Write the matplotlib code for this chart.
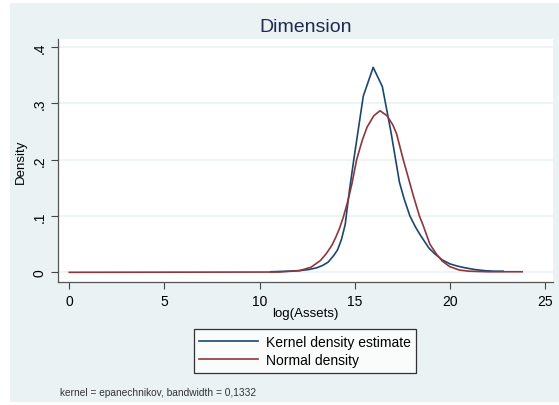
import matplotlib.pyplot as plt
import numpy as np

plt.rcParams['font.family'] = ['Liberation Sans', 'DejaVu Sans']

# kernel density estimate
kde_x = np.array([10.6, 11.5, 12.1, 12.6, 13.0, 13.3, 13.6, 13.9, 14.1, 14.3, 14.5,
                  14.7, 14.95, 15.45, 15.97, 16.45, 16.9, 17.35, 17.6, 17.9, 18.2,
                  18.45, 18.9, 19.2, 19.6, 20.0, 20.4, 20.8, 21.3, 21.8, 22.3, 22.8])
kde_y = np.array([0.001, 0.002, 0.003, 0.005, 0.008, 0.012, 0.018, 0.030, 0.040, 0.058, 0.085,
                  0.140, 0.200, 0.313, 0.364, 0.330, 0.250, 0.160, 0.130, 0.100, 0.080,
                  0.066, 0.043, 0.033, 0.022, 0.015, 0.011, 0.008, 0.005, 0.003, 0.002, 0.002])

# normal density
norm_x = np.array([0, 11.0, 12.1, 12.7, 13.2, 13.5, 13.8, 14.0, 14.2, 14.4, 14.65, 14.85,
                   15.1, 15.4, 15.65, 16.0, 16.33, 16.7, 17.0, 17.2, 17.55, 17.8, 18.08,
                   18.4, 18.6, 18.95, 19.3, 19.6, 20.0, 20.5, 21.0, 22.0, 23.8])
norm_y = np.array([0, 0.0005, 0.003, 0.009, 0.021, 0.033, 0.048, 0.062, 0.078, 0.098, 0.128, 0.157,
                   0.200, 0.235, 0.258, 0.278, 0.287, 0.278, 0.262, 0.246, 0.200, 0.170, 0.136,
                   0.100, 0.083, 0.050, 0.032, 0.020, 0.010, 0.004, 0.002, 0.001, 0.001])

xticks = [0, 5, 10, 15, 20, 25]
yticks = [0, 0.1, 0.2, 0.3, 0.4]
ylabels = ['0', '.1', '.2', '.3', '.4']

bg = '#eaf2f3'
W, H = 559, 406
fig = plt.figure(figsize=(W / 100, H / 100), dpi=100)
fig.patch.set_facecolor('white')
fig.patches.append(plt.Rectangle((10 / W, 1 - 403 / H), 549 / W, 399 / H,
                                 transform=fig.transFigure, facecolor=bg,
                                 edgecolor='none', zorder=-10))

ax = fig.add_axes([58 / W, 1 - 283 / H, 495 / W, 243 / H])
ax.set_facecolor('white')

for t in yticks:
    ax.axhline(t, color=bg, lw=1.2, zorder=0)

ax.plot(kde_x, kde_y, color='#1a476f', lw=1.2, label='Kernel density estimate')
ax.plot(norm_x, norm_y, color='#90353b', lw=1.2, label='Normal density')

ax.set_xlim(-0.594, 25.42)
ax.set_ylim(-0.0172, 0.4144)
ax.set_xticks(xticks)
ax.set_yticks(yticks)
ax.set_yticklabels(ylabels, rotation=90, va='center')
ax.tick_params(axis='both', colors='#444444', labelcolor='black', labelsize=10,
               length=5, width=0.8)
ax.tick_params(axis='y', pad=3)
ax.tick_params(axis='x', pad=4)

for s in ['top', 'right']:
    ax.spines[s].set_visible(False)
for s in ['left', 'bottom']:
    ax.spines[s].set_color('#555555')
    ax.spines[s].set_linewidth(0.9)

ax.set_ylabel('Density', fontsize=9.5, labelpad=4)
ax.set_xlabel('log(Assets)', fontsize=9.5, labelpad=-1)
ax.set_title('Dimension', fontsize=14, color='#1e2b4f', pad=6)

leg = fig.legend(loc='center', bbox_to_anchor=(305 / W, 1 - 352 / H), fontsize=10,
                 frameon=True, fancybox=False, handlelength=4.2, handletextpad=0.6,
                 borderpad=0.4, labelspacing=0.3, borderaxespad=0)
leg.get_frame().set_edgecolor('black')
leg.get_frame().set_linewidth(0.9)
leg.get_frame().set_facecolor('white')

fig.text(60 / W, 1 - 393 / H, 'kernel = epanechnikov, bandwidth = 0,1332',
         fontsize=7.3, color='#333333', va='center', ha='left')

fig.savefig('out.png', dpi=100, facecolor=fig.get_facecolor())
